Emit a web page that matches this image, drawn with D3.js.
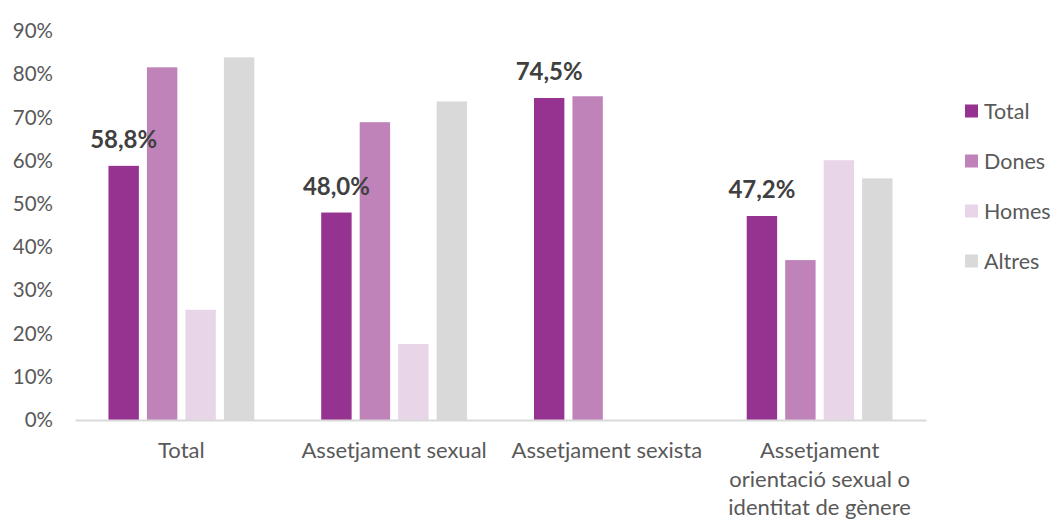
<!DOCTYPE html>
<html><head><meta charset="utf-8">
<script src="https://cdn.jsdelivr.net/npm/d3@7"></script>
<style>
html,body{margin:0;padding:0;background:#fff;}
svg{display:block;}
</style></head>
<body>
<svg id="chart" width="1054" height="519"></svg>
<script>
const categories = ["Total", "Assetjament sexual", "Assetjament sexista", "Assetjament orientació sexual o identitat de gènere"];
const categoryLines = [["Total"], ["Assetjament sexual"], ["Assetjament sexista"], ["Assetjament", "orientació sexual o", "identitat de gènere"]];
const seriesNames = ["Total", "Dones", "Homes", "Altres"];
const seriesColors = ["#963290", "#BF83BA", "#E8D5E8", "#D9D9D9"];
const totalValues  = [58.8, 48.0, 74.5, 47.2];
const donesValues  = [81.6, 68.9, 74.9, 37.0];
const homesValues  = [25.5, 17.6, null, 60.1];
const altresValues = [83.9, 73.7, null, 55.9];
const yTicks = [0, 10, 20, 30, 40, 50, 60, 70, 80, 90];
const labeledSeries = "Total";

(function () {
const seriesValues = [totalValues, donesValues, homesValues, altresValues];
const data = categories.map((c, i) => ({
  cat: c,
  vals: seriesNames.map((s, j) => ({series: s, value: seriesValues[j][i], color: seriesColors[j]}))
}));

const svg = d3.select("#chart");
const font = "Lato, 'Open Sans', sans-serif";
const textColor = "#595959";
const mLeft = 75, mRight = 926, mTop = 31, mBottom = 420;

const x0 = d3.scaleBand().domain(categories).range([mLeft, mRight]).padding(0);
const x1 = d3.scaleBand().domain(seriesNames).range([0, x0.bandwidth()]).paddingInner(0.21).paddingOuter(0.87);
const y = d3.scaleLinear().domain([0, 90]).range([mBottom, mTop]);

const yAxis = d3.axisLeft(y).tickValues(yTicks).tickFormat(d => d + "%").tickSize(0).tickPadding(0);
const yg = svg.append("g").attr("transform", `translate(53,0)`).call(yAxis);
yg.select(".domain").remove();
yg.selectAll("text").attr("font-family", font).attr("font-size", 20.5).attr("fill", textColor);

const groups = svg.append("g").selectAll("g").data(data).join("g")
  .attr("transform", d => `translate(${x0(d.cat)},0)`);
groups.selectAll("rect").data(d => d.vals.filter(v => v.value != null)).join("rect")
  .attr("x", v => x1(v.series))
  .attr("width", x1.bandwidth())
  .attr("y", v => y(v.value))
  .attr("height", v => y(0) - y(v.value))
  .attr("fill", v => v.color);

groups.selectAll("text.lbl").data(d => d.vals.filter(v => v.series === labeledSeries && v.value != null)).join("text")
  .attr("class", "lbl")
  .attr("x", v => x1(v.series) + x1.bandwidth() / 2)
  .attr("y", v => y(v.value) - 18)
  .attr("text-anchor", "middle")
  .attr("font-family", font).attr("font-weight", "bold").attr("font-size", 24)
  .attr("fill", "#404040")
  .text(v => d3.format(".1f")(v.value).replace(".", ",") + "%");

const xAxis = d3.axisBottom(x0).tickSize(0).tickFormat("");
const xg = svg.append("g").attr("transform", `translate(0,${mBottom})`).call(xAxis);
xg.select(".domain").attr("stroke", "#D9D9D9").attr("stroke-width", 2);

const catG = svg.append("g");
categories.forEach((c, i) => {
  const cx = x0(c) + x0.bandwidth() / 2;
  const t = catG.append("text")
    .attr("x", cx).attr("y", 458)
    .attr("text-anchor", "middle")
    .attr("font-family", font).attr("font-size", 22).attr("fill", textColor);
  categoryLines[i].forEach((line, k) => {
    t.append("tspan").attr("x", cx).attr("dy", k === 0 ? 0 : 28.5).text(line);
  });
});

const lg = svg.append("g").attr("transform", "translate(965,0)");
seriesNames.forEach((s, i) => {
  const cy = 111 + i * 50;
  lg.append("rect").attr("x", 0).attr("y", cy - 6.5).attr("width", 13).attr("height", 13).attr("fill", seriesColors[i]);
  lg.append("text").attr("x", 19).attr("y", cy).attr("dy", "0.35em")
    .attr("font-family", font).attr("font-size", 21.5).attr("fill", textColor).text(s);
});
})();
</script>
</body></html>
